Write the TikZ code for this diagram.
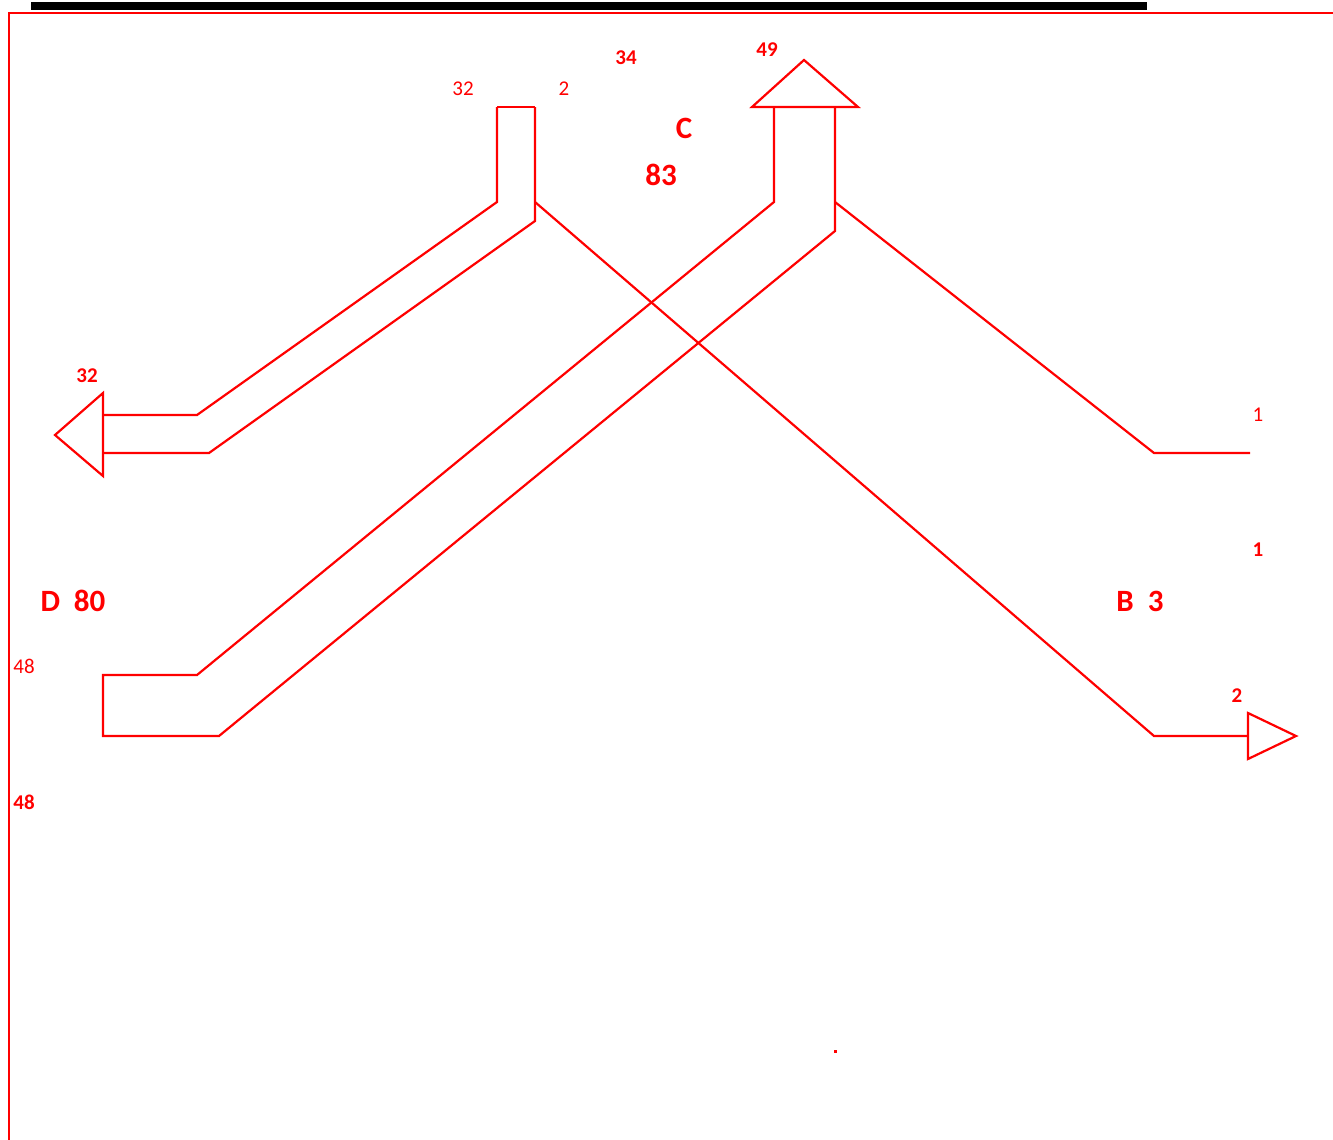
\documentclass[tikz,border=0pt]{standalone}
\usepackage{fontspec}
\setmainfont{Carlito}
\begin{document}
\begin{tikzpicture}[x=1pt,y=-1pt,
  ln/.style={draw=red,line width=2.2pt,line join=miter},
  sm/.style={text=red,font=\fontsize{21}{21}\selectfont,inner sep=0pt},
  smb/.style={text=red,font=\fontsize{21}{21}\selectfont\bfseries,inner sep=0pt},
  big/.style={text=red,font=\fontsize{31}{31}\selectfont\bfseries,inner sep=0pt}]
\useasboundingbox (0,0) rectangle (1333,1140);
% frame
\fill[black] (31,2) rectangle (1147,10.5);
\draw[red,line width=2.2pt] (1333,13) -- (9,13) -- (9,1140);
% left arrow
\draw[ln] (497,107) -- (535,107);
\draw[ln] (497,107) -- (497,202) -- (197,415) -- (103,415);
\draw[ln] (103,393) -- (55,435) -- (103,476) -- cycle;
\draw[ln] (103,453) -- (209,453) -- (535,221) -- (535,107);
\draw[ln] (535,202) -- (1154,736) -- (1248,736);
\draw[ln] (1248,713) -- (1296,736) -- (1248,759) -- cycle;
% big up arrow
\draw[ln] (752,107) -- (804,60) -- (858,107) -- cycle;
\draw[ln] (774,107) -- (774,202) -- (197,675) -- (103,675) -- (103,736) -- (219,736) -- (835,231) -- (835,107);
\draw[ln] (835,202) -- (1154,453) -- (1250,453);
% labels
\node[sm]  (l32a) at (463,89) {32};
\node[sm]  (l2a)  at (564,89) {2};
\node[smb] (l34)  at (626,58) {34};
\node[smb] (l49)  at (767,50) {49};
\node[big] (lC)   at (684,128) {C};
\node[big] (l83)  at (661,175) {83};
\node[smb] (l32b) at (87,376) {32};
\node[sm]  (l1a)  at (1258,415) {1};
\node[smb] (l1b)  at (1258,550) {1};
\node[big] (lD)   at (73,601) {D\hspace{0.45em}80};
\node[big] (lB)   at (1140,601) {B\hspace{0.45em}3};
\node[sm]  (l48a) at (24,666) {48};
\node[smb] (l48b) at (24,802) {48};
\node[smb] (l2b)  at (1237,696) {2};
\fill[red] (834,1050) rectangle (836.5,1052.5);
\end{tikzpicture}
\end{document}
